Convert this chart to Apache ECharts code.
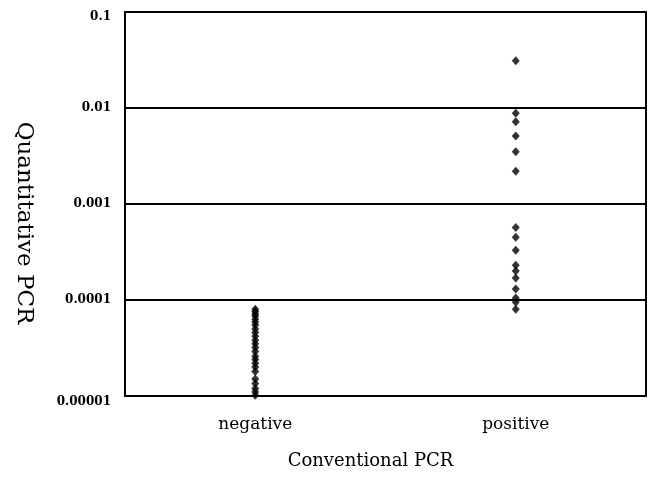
<!DOCTYPE html>
<html>
<head>
<meta charset="utf-8">
<script src="https://cdn.jsdelivr.net/npm/echarts@6/dist/echarts.min.js"></script>
<style>html,body{margin:0;padding:0;background:#fff;}#c{width:654px;height:477px;}</style>
</head>
<body>
<div id="c"></div>
<script>
const categories = ['negative', 'positive'];
const negativeValues = [8.0e-5, 7.6e-5, 7.2e-5, 6.8e-5, 6.3e-5, 5.9e-5, 5.5e-5, 5.0e-5, 4.6e-5, 4.2e-5,
  3.8e-5, 3.5e-5, 3.2e-5, 2.9e-5, 2.6e-5, 2.4e-5, 2.2e-5, 2.0e-5, 1.8e-5,
  1.5e-5, 1.35e-5, 1.2e-5, 1.1e-5, 1.02e-5];
const positiveValues = [0.031, 0.0088, 0.0072, 0.0051, 0.0035, 0.0022,
  0.00057, 0.00045, 0.00033, 0.00023, 0.0002, 0.00017, 0.00013, 0.000105, 0.000095, 0.00008];
const yTickLabels = ['0.00001', '0.0001', '0.001', '0.01', '0.1'];

const pts = [];
negativeValues.forEach(v => pts.push([categories[0], v]));
positiveValues.forEach(v => pts.push([categories[1], v]));

const labelFont = { color: '#000', fontFamily: 'DejaVu Serif', fontWeight: 'bold', fontSize: 12 };

const chart = echarts.init(document.getElementById('c'));
chart.setOption({
  animation: false,
  backgroundColor: '#fff',
  grid: { left: 125, right: 8, top: 12, bottom: 81, show: true, borderColor: '#000', borderWidth: 2 },
  xAxis: {
    type: 'category',
    data: categories,
    boundaryGap: true,
    axisLine: { show: true, lineStyle: { color: '#000', width: 2 } },
    axisTick: { show: false },
    axisLabel: { color: '#000', fontFamily: 'DejaVu Serif', fontSize: 17, margin: 20 },
    name: 'Conventional PCR',
    nameLocation: 'middle',
    nameGap: 56,
    nameTextStyle: { color: '#000', fontFamily: 'DejaVu Serif', fontSize: 18, padding: [0, 30, 0, 0] }
  },
  yAxis: {
    type: 'log',
    logBase: 10,
    min: 0.00001,
    max: 0.1,
    axisLine: { show: true, lineStyle: { color: '#000', width: 2 } },
    axisTick: { show: false },
    splitLine: { show: true, lineStyle: { color: '#000', width: 2 } },
    axisLabel: Object.assign({}, labelFont, {
      margin: 14,
      formatter: function (v) {
        const e = Math.round(Math.log10(v));
        const s = yTickLabels[e + 5];
        if (s === undefined) return '';
        if (e === -1) return '{top|' + s + '}';
        if (e === -5) return '{bot|' + s + '}';
        return s;
      },
      rich: {
        top: Object.assign({}, labelFont, { padding: [10, 0, 0, 0] }),
        bot: Object.assign({}, labelFont, { padding: [11, 0, 0, 0] })
      }
    }),
    name: 'Quantitative PCR',
    nameLocation: 'middle',
    nameRotate: -90,
    nameGap: 90,
    nameTextStyle: { color: '#000', fontFamily: 'DejaVu Serif', fontSize: 23, padding: [0, 0, 0, 38] }
  },
  series: [{
    type: 'scatter',
    data: pts,
    symbol: 'diamond',
    symbolSize: [8, 9],
    itemStyle: { color: '#000' }
  }]
});
</script>
</body>
</html>
